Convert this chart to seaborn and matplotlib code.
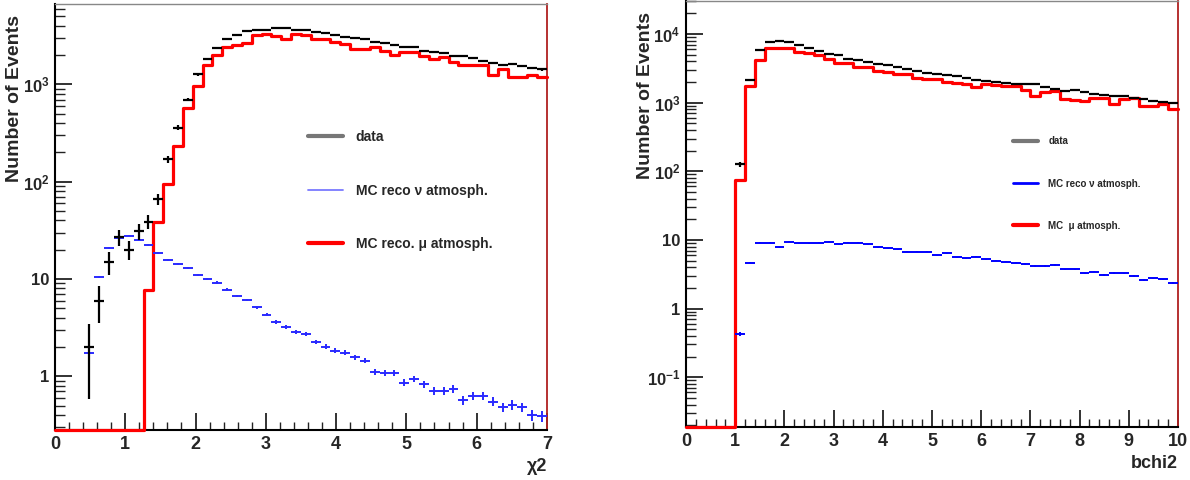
import numpy as np
import pandas as pd
import matplotlib
matplotlib.use("Agg")
import matplotlib.pyplot as plt
import seaborn as sns
from matplotlib.lines import Line2D
from matplotlib.ticker import MultipleLocator, LogLocator, FuncFormatter, NullFormatter

# --- binning (50 bins per panel) ---
n_bins = 50
chi2_range = (0, 7)
bchi2_range = (0, 10)

# --- left panel: chi2 ---
chi2_data = [0, 0, 0, 2, 6, 15, 27, 20, 31, 39,
             66, 170, 360, 700, 1270, 1835, 2380, 2900, 3240, 3580,
             3660, 3660, 3780, 3780, 3660, 3660, 3500, 3400, 3240, 3100,
             3010, 2900, 2760, 2650, 2520, 2400, 2400, 2230, 2150, 2120,
             1950, 1980, 1860, 1760, 1670, 1590, 1630, 1540, 1470, 1425]
chi2_nu = [0, 0, 0, 1.75, 10.4, 20.9, 26.1, 27.8, 25.1, 22.3,
           18.6, 15.7, 14.3, 12.9, 10.9, 10.0, 9.2, 7.8, 6.7, 6.1,
           5.1, 4.3, 3.6, 3.2, 2.86, 2.73, 2.27, 2.02, 1.84, 1.75,
           1.57, 1.45, 1.12, 1.08, 1.08, 0.86, 0.94, 0.83, 0.71, 0.71,
           0.74, 0.57, 0.63, 0.63, 0.55, 0.48, 0.51, 0.48, 0.40, 0.39]
chi2_mu = [0, 0, 0, 0, 0, 0, 0, 0, 0, 7.7,
           39, 94, 233, 571, 961, 1567, 2018, 2415, 2555, 2680,
           3185, 3315, 3130, 2940, 3315, 3185, 2940, 2940, 2760, 2612,
           2323, 2323, 2415, 2233, 2018, 2180, 2180, 1983, 1805, 1907,
           1694, 1567, 1567, 1567, 1259, 1448, 1188, 1188, 1259, 1188]

# --- right panel: bchi2 ---
bchi2_data = [0, 0, 0, 0, 0, 126, 2120, 5790, 7570, 7900,
              7570, 6850, 6340, 5660, 5190, 4900, 4385, 4140, 3910, 3705,
              3500, 3310, 3060, 2890, 2740, 2654, 2566, 2422, 2290, 2120,
              2086, 2000, 1936, 1896, 1853, 1853, 1694, 1567, 1480, 1516,
              1432, 1325, 1300, 1268, 1240, 1186, 1110, 1060, 1014, 1000]
bchi2_nu = [0, 0, 0, 0, 0, 0.43, 4.64, 9.08, 9.08, 7.78,
            9.4, 8.9, 8.9, 9.08, 9.4, 8.69, 9.08, 9.08, 8.69, 7.78,
            7.52, 7.27, 6.71, 6.71, 6.71, 6.01, 6.36, 5.56, 5.38, 5.68,
            5.2, 4.97, 4.8, 4.64, 4.44, 4.16, 4.16, 4.3, 3.72, 3.72,
            3.25, 3.44, 3.07, 3.32, 3.25, 2.97, 2.6, 2.75, 2.66, 2.37]
bchi2_mu = [0, 0, 0, 0, 0, 74, 1733, 4240, 6250, 6250,
            6250, 5470, 5290, 4900, 4280, 3785, 3785, 3310, 3310, 2865,
            2770, 2654, 2654, 2317, 2244, 2244, 2000, 1936, 1896, 1694,
            1853, 1791, 1733, 1733, 1516, 1240, 1432, 1480, 1110, 1084,
            1048, 1172, 1172, 948, 1110, 1186, 887, 887, 970, 794]

left_labels = ["data", "MC reco \u03bd atmosph.", "MC reco. \u03bc atmosph."]
right_labels = ["data", "MC reco \u03bd atmosph.", "MC  \u03bc atmosph."]

sns.set_style("ticks")
plt.rcParams['font.family'] = ['Liberation Sans', 'DejaVu Sans']
plt.rcParams['font.weight'] = 'bold'
plt.rcParams['mathtext.default'] = 'regular'


def root_log_label(v, pos):
    e = int(round(np.log10(v)))
    if e == 0:
        return '1'
    if e == 1:
        return '10'
    return r'$\mathdefault{10^{%d}}$' % e


def draw_panel(ax, xrange, data, nu, mu, ylim, nu_w, nu_color):
    edges = np.linspace(xrange[0], xrange[1], n_bins + 1)
    centers = 0.5 * (edges[:-1] + edges[1:])
    half = 0.5 * (edges[1] - edges[0])
    floor = ylim[0]
    ax.set_yscale('log')

    # red MC mu histogram (empty bins sit on the frame bottom, like ROOT)
    mu = np.asarray(mu, float)
    hist_df = pd.DataFrame({'x': centers, 'w': np.where(mu > 0, mu, floor)})
    sns.histplot(data=hist_df, x='x', weights='w', bins=n_bins, binrange=xrange,
                 element='step', fill=False, color='#ff0000', linewidth=2.3,
                 ax=ax, clip_on=False, zorder=3)

    # blue MC nu crosses
    nu = np.asarray(nu, float)
    ok = nu > 0
    ax.errorbar(centers[ok], nu[ok], xerr=half, yerr=np.sqrt(nu[ok] * nu_w),
                fmt='none', ecolor=nu_color, elinewidth=1.4, capsize=0, zorder=4)

    # black data crosses
    data = np.asarray(data, float)
    ok = data > 0
    ax.errorbar(centers[ok], data[ok], xerr=half, yerr=np.sqrt(data[ok]),
                fmt='none', ecolor='black', elinewidth=1.6, capsize=0, zorder=5)

    ax.set_xlim(*xrange)
    ax.set_ylim(*ylim)
    ax.xaxis.set_major_locator(MultipleLocator(1))
    ax.xaxis.set_minor_locator(MultipleLocator(0.2))
    ax.yaxis.set_major_locator(LogLocator(base=10, numticks=12))
    ax.yaxis.set_minor_locator(LogLocator(base=10, subs=np.arange(2, 10), numticks=12))
    ax.yaxis.set_major_formatter(FuncFormatter(root_log_label))
    ax.yaxis.set_minor_formatter(NullFormatter())
    ax.tick_params(which='both', direction='in', top=False, right=False,
                   color='#222222')
    ax.tick_params(axis='y', which='major', length=12, width=1.3, pad=4, labelsize=12)
    ax.tick_params(axis='y', which='minor', length=7, width=1)
    ax.tick_params(axis='x', which='major', length=12, width=1.3, pad=4, labelsize=13)
    ax.tick_params(axis='x', which='minor', length=6, width=1)

    ax.spines['left'].set_color('black')
    ax.spines['left'].set_linewidth(1.5)
    ax.spines['bottom'].set_color('black')
    ax.spines['bottom'].set_linewidth(1.5)
    ax.spines['top'].set_color('#888888')
    ax.spines['top'].set_linewidth(1)
    ax.spines['right'].set_color('#b02020')
    ax.spines['right'].set_linewidth(1.3)


fig = plt.figure(figsize=(11.9, 4.8), dpi=100)
ax1 = fig.add_axes([0.0462, 0.104, 0.4134, 0.8875])
ax2 = fig.add_axes([0.5765, 0.110, 0.4134, 0.8875])

draw_panel(ax1, chi2_range, chi2_data, chi2_nu, chi2_mu, (0.28, 6700), 0.006, '#2a2aff')
draw_panel(ax2, bchi2_range, bchi2_data, bchi2_nu, bchi2_mu, (0.0187, 30000), 0.002, '#0000ff')

for ax, xl in [(ax1, '\u03c72'), (ax2, 'bchi2')]:
    ax.set_ylabel('Number of Events', loc='top', fontsize=14, fontweight='bold')
    ax.yaxis.set_label_coords(-0.066, 0.975)
    ax.set_xlabel(xl, loc='right', fontsize=13, fontweight='bold')
    ax.xaxis.set_label_coords(1.0, -0.066)

# legends
h1 = [Line2D([], [], color='#777777', lw=3),
      Line2D([], [], color='#7a7aff', lw=1.3),
      Line2D([], [], color='#ff0000', lw=3)]
ax1.legend(h1, left_labels, loc='center left', bbox_to_anchor=(0.514, 0.562),
           frameon=False, fontsize=10, handlelength=2.5, handletextpad=0.95,
           labelspacing=2.85, borderpad=0, borderaxespad=0)

h2 = [Line2D([], [], color='#777777', lw=3),
      Line2D([], [], color='#0000ff', lw=2),
      Line2D([], [], color='#ff0000', lw=3)]
ax2.legend(h2, right_labels, loc='center left', bbox_to_anchor=(0.665, 0.572),
           frameon=False, fontsize=7, handlelength=2.6, handletextpad=1.0,
           labelspacing=3.3, borderpad=0, borderaxespad=0)

fig.savefig('out.png', dpi=100)
